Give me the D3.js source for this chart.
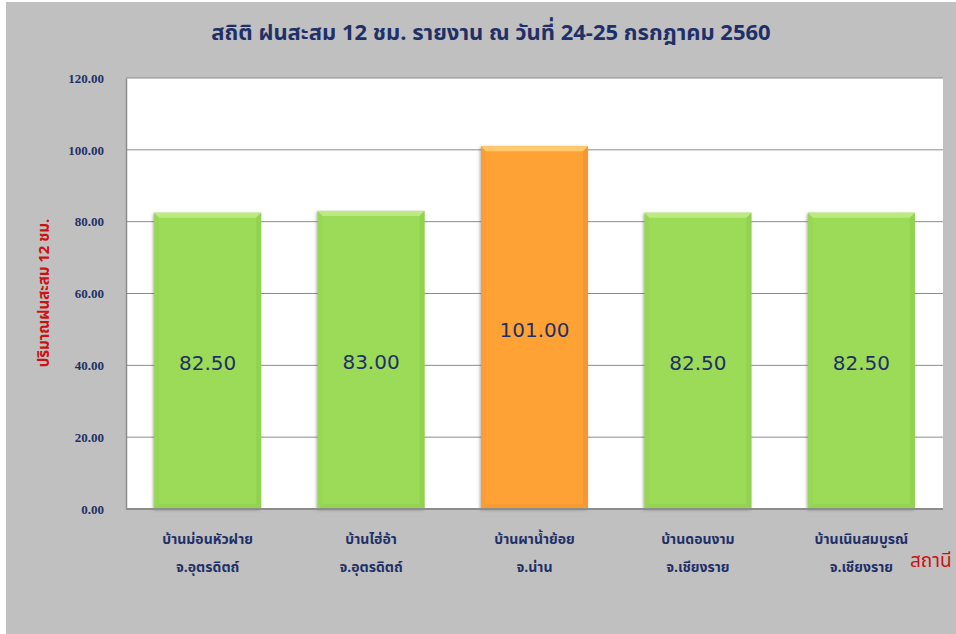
<!doctype html>
<html lang="th">
<head>
<meta charset="utf-8">
<title>rain</title>
<style>
  body { margin: 0; background: #fff; }
  svg { display: block; }
  .tick text { font-family: "Liberation Serif", "DejaVu Serif", serif; font-weight: bold; }
</style>
</head>
<body>
<div id="chart"></div>
<script src="https://d3js.org/d3.v7.min.js"></script>
<script>
// ---------- data
var stations = ["บ้านม่อนหัวฝาย", "บ้านไฮ่อ้า", "บ้านผาน้ำย้อย", "บ้านดอนงาม", "บ้านเนินสมบูรณ์"];
var provinces = ["จ.อุตรดิตถ์", "จ.อุตรดิตถ์", "จ.น่าน", "จ.เชียงราย", "จ.เชียงราย"];
var rain = [82.5, 83.0, 101.0, 82.5, 82.5];
var yTicks = [0, 20, 40, 60, 80, 100, 120];

var W = 956, H = 634;
var margin = {top: 78, right: 13, bottom: 125, left: 126};
var pw = W - margin.left - margin.right,
    ph = H - margin.top - margin.bottom;

var navy = "#1f3068", red = "#cc1111";
var thai = "Tahoma, 'Noto Sans Thai', 'Loma', 'Garuda', 'Norasi', 'DejaVu Sans', sans-serif";

var svg = d3.select("#chart").append("svg")
    .attr("width", W).attr("height", H);

// background (white strip at left/top as in picture)
svg.append("rect").attr("x", 6).attr("y", 2).attr("width", W - 6).attr("height", H - 2)
    .attr("fill", "#c0c0c0");

var defs = svg.append("defs");
defs.append("filter").attr("id", "shadow")
    .attr("x", "-20%").attr("y", "-20%").attr("width", "140%").attr("height", "140%")
  .append("feDropShadow")
    .attr("dx", -1).attr("dy", 1).attr("stdDeviation", 1.4)
    .attr("flood-color", "#555").attr("flood-opacity", 0.5);

var g = svg.append("g").attr("transform", "translate(" + margin.left + "," + margin.top + ")");

var x = d3.scaleBand().domain(stations).range([0, pw]).paddingInner(0.345).paddingOuter(0.172);
var y = d3.scaleLinear().domain([0, 120]).range([ph, 0]);

// plot area
g.append("rect").attr("width", pw).attr("height", ph).attr("fill", "#fff");

// gridlines
g.append("g").selectAll("line").data(yTicks.slice(1)).enter().append("line")
    .attr("x1", 0).attr("x2", pw)
    .attr("y1", d => y(d)).attr("y2", d => y(d))
    .attr("stroke", "#8c8c8c").attr("stroke-width", 1);

// y axis
var ya = g.append("g").call(d3.axisLeft(y).tickValues(yTicks).tickFormat(d3.format(".2f")).tickSize(0).tickPadding(22));
ya.select(".domain").attr("stroke", "#8c8c8c").attr("stroke-width", 1.5);
ya.selectAll("text").attr("fill", navy).attr("font-size", 13);

// bars
var colors = rain.map(v => v > 100 ? ["#ffa236", "#ffd37a", "#d8802a"] : ["#9cdb58", "#c4ee8a", "#7fb942"]);
var bars = g.append("g").selectAll("g").data(stations).enter().append("g");
var bev = 5;
bars.append("rect")
    .attr("x", d => x(d)).attr("y", (d, i) => y(rain[i]))
    .attr("width", x.bandwidth()).attr("height", (d, i) => ph - y(rain[i]))
    .attr("fill", (d, i) => colors[i][0])
    .attr("filter", "url(#shadow)");
// bevel: top light, sides/bottom a touch darker
bars.append("polygon").attr("points", function(d, i) {
    var x0 = x(d), x1 = x0 + x.bandwidth(), y0 = y(rain[i]);
    return [[x0, y0], [x1, y0], [x1 - bev, y0 + bev], [x0 + bev, y0 + bev]].join(" ");
  }).attr("fill", (d, i) => colors[i][1]).attr("opacity", 0.8);
bars.append("polygon").attr("points", function(d, i) {
    var x0 = x(d), x1 = x0 + x.bandwidth(), y0 = y(rain[i]);
    return [[x1, y0], [x1, ph], [x1 - bev, ph - bev], [x1 - bev, y0 + bev]].join(" ");
  }).attr("fill", (d, i) => colors[i][2]).attr("opacity", 0.3);
bars.append("polygon").attr("points", function(d, i) {
    var x0 = x(d), x1 = x0 + x.bandwidth();
    return [[x0, ph], [x1, ph], [x1 - bev, ph - bev], [x0 + bev, ph - bev]].join(" ");
  }).attr("fill", (d, i) => colors[i][2]).attr("opacity", 0.2);
bars.append("polygon").attr("points", function(d, i) {
    var x0 = x(d), y0 = y(rain[i]);
    return [[x0, y0], [x0 + bev, y0 + bev], [x0 + bev, ph - bev], [x0, ph]].join(" ");
  }).attr("fill", (d, i) => colors[i][2]).attr("opacity", 0.12);

// value labels
bars.append("text")
    .attr("x", d => x(d) + x.bandwidth() / 2)
    .attr("y", (d, i) => y(rain[i] / 2) + 9)
    .attr("text-anchor", "middle")
    .attr("font-family", "Tahoma, 'DejaVu Sans', sans-serif")
    .attr("font-size", 20).attr("fill", navy)
    .text((d, i) => rain[i].toFixed(2));

// x axis line
g.append("line").attr("x1", 0).attr("x2", pw).attr("y1", ph).attr("y2", ph)
    .attr("stroke", "#8c8c8c").attr("stroke-width", 2);

// x labels (two lines)
var xl = g.append("g").selectAll("text").data(stations).enter().append("text")
    .attr("text-anchor", "middle")
    .attr("font-family", thai).attr("font-weight", "bold")
    .attr("font-size", 14).attr("fill", navy)
    .attr("transform", d => "translate(" + (x(d) + x.bandwidth() / 2) + "," + (ph + 35) + ")");
xl.append("tspan").attr("x", 0).attr("y", 0).text(d => d);
xl.append("tspan").attr("x", 0).attr("y", 28).text((d, i) => provinces[i]);

// title
svg.append("text").attr("x", 491).attr("y", 40).attr("text-anchor", "middle")
    .attr("font-family", thai).attr("font-weight", "bold")
    .attr("font-size", 22).attr("fill", navy)
    .text("สถิติ ฝนสะสม 12 ชม. รายงาน ณ วันที่ 24-25 กรกฎาคม 2560");

// axis titles
svg.append("text").attr("transform", "translate(49,293) rotate(-90)")
    .attr("text-anchor", "middle")
    .attr("font-family", thai).attr("font-weight", "bold")
    .attr("font-size", 15).attr("fill", red)
    .text("ปริมาณฝนสะสม 12 ชม.");
svg.append("text").attr("x", 910).attr("y", 567)
    .attr("font-family", thai)
    .attr("font-size", 19).attr("fill", red)
    .text("สถานี");
</script>
</body>
</html>
